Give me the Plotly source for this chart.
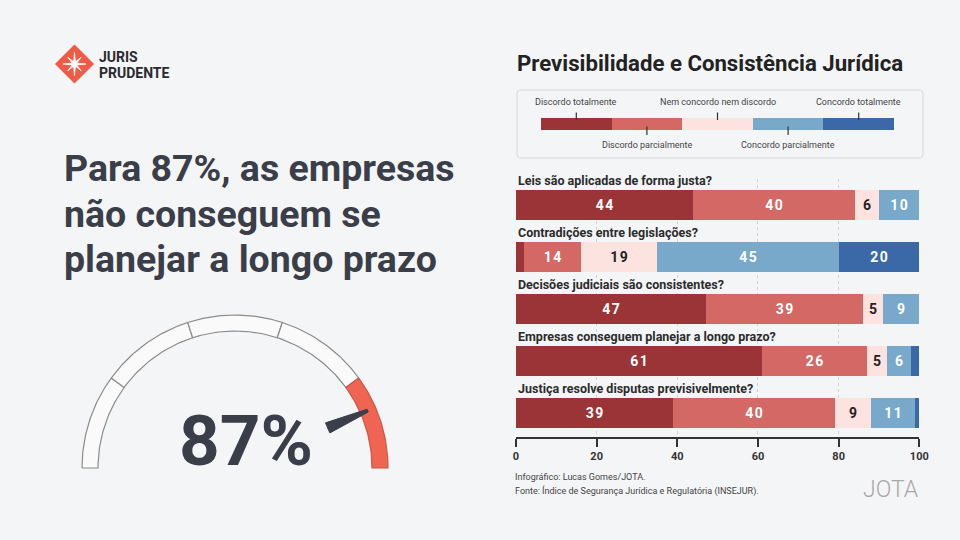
import numpy as np
import plotly.graph_objects as go

W, H = 960, 540
BG = "#f4f5f7"
FONT = "Roboto"

# ---------------- data ----------------
questions = [
    "Leis são aplicadas de forma justa?",
    "Contradições entre legislações?",
    "Decisões judiciais são consistentes?",
    "Empresas conseguem planejar a longo prazo?",
    "Justiça resolve disputas previsivelmente?",
]
series_names = [
    "Discordo totalmente",
    "Discordo parcialmente",
    "Nem concordo nem discordo",
    "Concordo parcialmente",
    "Concordo totalmente",
]
discordo_totalmente = [44, 2, 47, 61, 39]
discordo_parcialmente = [40, 14, 39, 26, 40]
nem_concordo_nem_discordo = [6, 19, 5, 5, 9]
concordo_parcialmente = [10, 45, 9, 6, 11]
concordo_totalmente = [0, 20, 0, 2, 1]
series_values = [discordo_totalmente, discordo_parcialmente, nem_concordo_nem_discordo,
                 concordo_parcialmente, concordo_totalmente]
series_colors = ["#9b3436", "#d36865", "#fde3df", "#78a9ca", "#3b68a7"]
label_colors = ["#ffffff", "#ffffff", "#222222", "#ffffff", "#ffffff"]
x_ticks = [0, 20, 40, 60, 80, 100]

gauge_value = 87
gauge_edges = [0, 20, 40, 60, 80, 100]

title_text = "Previsibilidade e Consistência Jurídica"
headline_lines = ["Para 87%, as empresas", "não conseguem se", "planejar a longo prazo"]
footnotes = ["Infográfico: Lucas Gomes/JOTA.",
             "Fonte: Índice de Segurança Jurídica e Regulatória (INSEJUR)."]


def px(x, y):
    return x / W, 1 - y / H


def spaced(v):
    return "\u200a".join(str(v))


fig = go.Figure()

# ---------------- main stacked bars ----------------
rows = list(range(len(questions)))
for name, vals, col, lc in zip(series_names, series_values, series_colors, label_colors):
    fig.add_trace(go.Bar(
        y=rows, x=vals, orientation="h", name=name,
        marker=dict(color=col, line=dict(width=0)),
        width=0.577,
        text=[spaced(v) if v >= 3 else "" for v in vals],
        textposition="inside", insidetextanchor="middle", textangle=0,
        textfont=dict(family=FONT, size=14, color=lc, weight="bold"),
        hoverinfo="skip", showlegend=False,
        xaxis="x", yaxis="y",
    ))

# ---------------- legend strip ----------------
for name, col in zip(series_names, series_colors):
    fig.add_trace(go.Bar(
        y=[0], x=[1], orientation="h", marker=dict(color=col, line=dict(width=0)),
        width=12, hoverinfo="skip", showlegend=False, xaxis="x3", yaxis="y3",
    ))

# ---------------- gauge ----------------
r_out, r_in = 1.0, 137 / 153
for e0, e1 in zip(gauge_edges[:-1], gauge_edges[1:]):
    a0 = np.pi * (1 - e0 / 100)
    a1 = np.pi * (1 - e1 / 100)
    t = np.linspace(a0, a1, 40)
    xs = np.concatenate([r_out * np.cos(t), r_in * np.cos(t[::-1]), [r_out * np.cos(a0)]])
    ys = np.concatenate([r_out * np.sin(t), r_in * np.sin(t[::-1]), [r_out * np.sin(a0)]])
    active = e0 <= gauge_value < e1
    fig.add_trace(go.Scatter(
        x=xs, y=ys, mode="lines", fill="toself",
        fillcolor="#ef6552" if active else "#fafafb",
        line=dict(color="#8c8c8c" if not active else "#c9574a", width=1.2),
        hoverinfo="skip", showlegend=False, xaxis="x2", yaxis="y2",
    ))

th = np.pi * (1 - gauge_value / 100)
ux, uy = np.cos(th), np.sin(th)
perp_x, perp_y = -uy, ux
rb, rt = 0.66, 0.945
wb, wt = 5.5 / 153, 1.5 / 153
nx = [rb * ux + wb * perp_x, rt * ux + wt * perp_x, rt * ux - wt * perp_x, rb * ux - wb * perp_x, rb * ux + wb * perp_x]
ny = [rb * uy + wb * perp_y, rt * uy + wt * perp_y, rt * uy - wt * perp_y, rb * uy - wb * perp_y, rb * uy + wb * perp_y]
fig.add_trace(go.Scatter(
    x=nx, y=ny, mode="lines", fill="toself", fillcolor="#3a3f4b",
    line=dict(color="#3a3f4b", width=1), hoverinfo="skip", showlegend=False,
    xaxis="x2", yaxis="y2",
))

annotations = []
shapes = []

# category labels
for i, q in enumerate(questions):
    annotations.append(dict(
        xref="x", yref="y", x=0, y=i - 25 / 52, xanchor="left", yanchor="middle",
        text=f"<b>{q}</b>", showarrow=False,
        font=dict(family=FONT, size=12.5, color="#2b2b2b"),
    ))

# legend labels & ticks
for i, name in enumerate(series_names):
    above = (i % 2 == 0)
    annotations.append(dict(
        xref="x3", yref="y3", x=i + 0.5, y=22 if above else -21,
        xanchor="center", yanchor="middle", text=name, showarrow=False,
        font=dict(family=FONT, size=9, color="#444444"),
    ))
    shapes.append(dict(
        type="line", xref="x3", yref="y3", x0=i + 0.5, x1=i + 0.5,
        y0=4 if above else -2.5, y1=11.5 if above else -11,
        line=dict(color="#333333", width=1.2),
    ))

# legend box (rounded)
bx0, by0, bx1, by1, rr = 517, 90, 923, 158, 4
p = lambda x, y: "%.5f,%.5f" % px(x, y)
box_path = (f"M {p(bx0+rr, by0)} L {p(bx1-rr, by0)} Q {p(bx1, by0)} {p(bx1, by0+rr)} "
            f"L {p(bx1, by1-rr)} Q {p(bx1, by1)} {p(bx1-rr, by1)} L {p(bx0+rr, by1)} "
            f"Q {p(bx0, by1)} {p(bx0, by1-rr)} L {p(bx0, by0+rr)} Q {p(bx0, by0)} {p(bx0+rr, by0)} Z")
shapes.append(dict(type="path", xref="paper", yref="paper", path=box_path,
                   line=dict(color="#d5d7db", width=1), fillcolor="rgba(0,0,0,0)", layer="below"))

# logo diamond + star
cx, cy, hd, rc = 74.5, 64, 18.5, 2.5
dpath = (f"M {p(cx, cy-hd+rc)} L {p(cx+hd-rc, cy)} L {p(cx, cy+hd-rc)} L {p(cx-hd+rc, cy)} Z")
shapes.append(dict(type="path", xref="paper", yref="paper", path=dpath,
                   line=dict(color="#ef5b45", width=5, ), fillcolor="#ef5b45"))
star_pts = []
for k in range(16):
    ang = np.pi / 2 - k * np.pi / 8
    if k % 2 == 0:
        r = 11.5 if (k // 2) % 2 == 0 else 9.5
    else:
        r = 2.4
    star_pts.append(p(cx + r * np.cos(ang), cy - r * np.sin(ang)))
spath = "M " + " L ".join(star_pts) + " Z"
shapes.append(dict(type="path", xref="paper", yref="paper", path=spath,
                   line=dict(color="#ffffff", width=0.8), fillcolor="#ffffff"))

for txt, yy in [("JURIS", 57), ("PRUDENTE", 72.5)]:
    x_, y_ = px(96.5, yy)
    annotations.append(dict(xref="paper", yref="paper", x=x_, y=y_, xanchor="left", yanchor="middle",
                            text=f"<b>{txt}</b>", showarrow=False,
                            font=dict(family=FONT, size=14, color="#2a2a2e")))

# headline
for j, line in enumerate(headline_lines):
    x_, y_ = px(62, 168 + j * 45.5)
    annotations.append(dict(xref="paper", yref="paper", x=x_, y=y_, xanchor="left", yanchor="middle",
                            text=f"<b>{line}</b>", showarrow=False,
                            font=dict(family=FONT, size=37.5, color="#3a3e49")))

# gauge value
x_, y_ = px(246, 440)
annotations.append(dict(xref="paper", yref="paper", x=x_, y=y_, xanchor="center", yanchor="middle",
                        text=f"<b>{gauge_value}%</b>", showarrow=False,
                        font=dict(family=FONT, size=71, color="#3a3e49")))

# title
x_, y_ = px(515, 63)
annotations.append(dict(xref="paper", yref="paper", x=x_, y=y_, xanchor="left", yanchor="middle",
                        text=f"<b>{title_text}</b>", showarrow=False,
                        font=dict(family=FONT, size=22.2, color="#222222")))

# footnotes
for j, fn in enumerate(footnotes):
    x_, y_ = px(513, 477 + j * 14)
    annotations.append(dict(xref="paper", yref="paper", x=x_, y=y_, xanchor="left", yanchor="middle",
                            text=fn, showarrow=False,
                            font=dict(family=FONT, size=9, color="#444444")))

# JOTA mark
x_, y_ = px(921, 489)
annotations.append(dict(xref="paper", yref="paper", x=x_, y=y_, xanchor="right", yanchor="middle",
                        text="JOTA", showarrow=False,
                        font=dict(family=FONT, size=23, color="#a8a8a8", weight=300)))

fig.update_layout(
    width=W, height=H, autosize=False, margin=dict(l=0, r=0, t=0, b=0, pad=0),
    paper_bgcolor=BG, plot_bgcolor="rgba(0,0,0,0)",
    barmode="stack", bargap=0,
    font=dict(family=FONT),
    xaxis=dict(domain=[516 / W, 919.3 / W], range=[0, 100], tickvals=x_ticks,
               showgrid=True, gridcolor="#cfd2d6", griddash="dot", gridwidth=1,
               zeroline=False, showline=True, linecolor="#333333", linewidth=1.5,
               ticks="outside", ticklen=8, tickwidth=1.5, tickcolor="#333333",
               tickfont=dict(family=FONT, size=11, color="#333333", weight="bold"),
               anchor="y", fixedrange=True, automargin=False),
    yaxis=dict(domain=[1 - 437 / H, 1 - 179 / H], range=[4 + 24 / 52, -0.5],
               visible=False, fixedrange=True, automargin=False),
    xaxis2=dict(domain=[75 / W, 395 / W], range=[-160 / 153, 160 / 153], visible=False,
                anchor="y2", fixedrange=True),
    yaxis2=dict(domain=[1 - 478 / H, 1 - 308 / H], range=[-10 / 153, 160 / 153], visible=False,
                anchor="x2", fixedrange=True),
    xaxis3=dict(domain=[541 / W, 894 / W], range=[0, 5], visible=False, anchor="y3", fixedrange=True),
    yaxis3=dict(domain=[1 - 156 / H, 1 - 92 / H], range=[-32, 32], visible=False, anchor="x3",
                fixedrange=True),
    annotations=annotations, shapes=shapes,
)

fig.write_html(
    "out.html",
    config={"responsive": False, "displayModeBar": False},
    default_width="960px", default_height="540px",
    post_script=("document.body.style.margin='0';document.body.style.overflow='hidden';"
                 "document.body.style.background='%s';" % BG),
)
